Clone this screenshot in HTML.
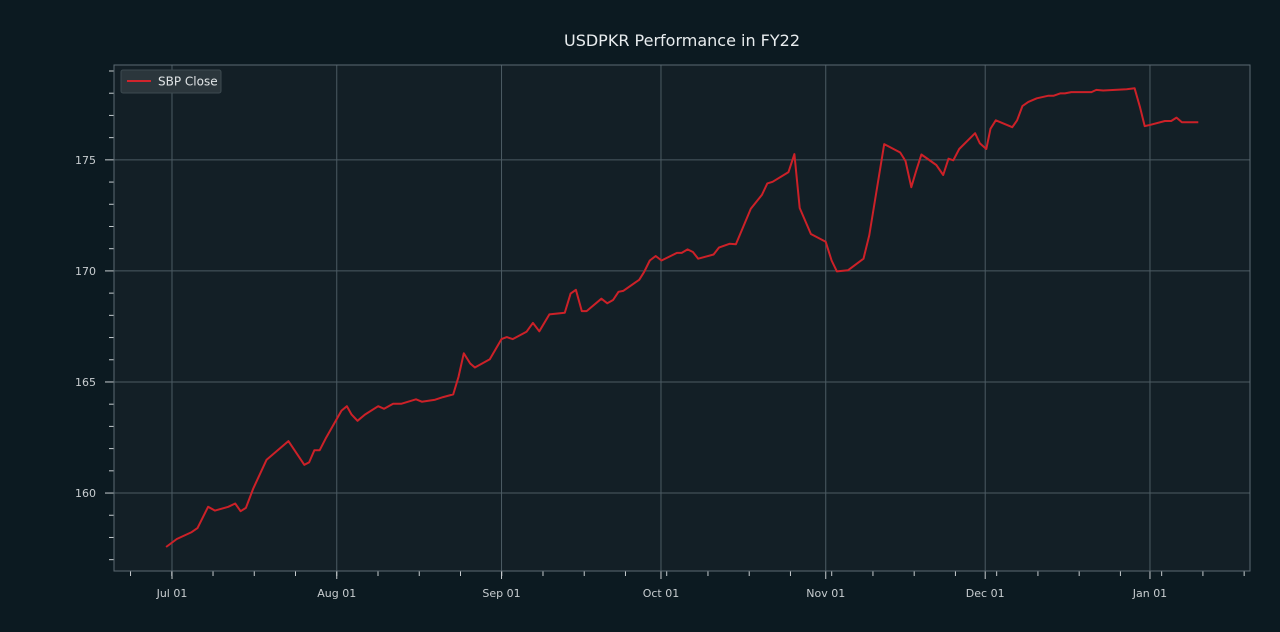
<!DOCTYPE html>
<html><head><meta charset="utf-8"><style>
html,body{margin:0;padding:0;background:#0c1a21;}
svg{display:block;font-family:"DejaVu Sans","Liberation Sans",sans-serif;}
</style></head><body>
<svg id="chart" width="1280" height="632" viewBox="0 0 1280 632">
<rect x="0" y="0" width="1280" height="632" fill="#0c1a21"/>
<text x="682" y="46" text-anchor="middle" font-size="16" fill="#e8ecee">USDPKR Performance in FY22</text>
<rect x="114" y="65" width="1136" height="506" fill="#131f26"/>
<g id="grid"></g>
<g id="ticks"></g>
<rect x="114" y="65" width="1136" height="506" fill="none" stroke="#5b6a72" stroke-width="1"/>
<g id="series"></g>
<g>
<rect x="121" y="70" width="100" height="23" rx="2" fill="#2b363c" stroke="#3d4a50"/>
<line x1="127" y1="81" x2="151" y2="81" stroke="#d0242c" stroke-width="2"/>
<text x="158" y="85.5" font-size="12" fill="#e0e4e6">SBP Close</text>
</g>
</svg>
<script>
// days since 2021-07-01
const days = [-1.1,0.9,3.7,4.8,6.8,8.1,10.6,11.9,12.9,13.9,15.3,17.8,21.9,24.9,25.8,26.8,27.8,29,31.9,32.9,33.8,34.9,36.3,38.8,39.9,41.6,43.2,45.9,47,49.5,51,52.9,53.9,54.9,56.1,57,59.8,62,63,64.1,66.7,67.9,69.1,71,73.9,75,76,77.1,78,80.8,81.9,83,84,84.9,87.9,88.8,89.9,91,92.1,95,95.9,97,98,99,101.9,102.9,104.9,106.1,108.9,111,112,113,116,117.1,118.1,120.2,123,124.1,125.1,127.2,130.1,131.2,134,137,138,139.1,140.1,141,143.8,145.1,146.1,147,148.1,151.1,152,153.2,154,155,158.1,159,160,161.1,162.7,164.9,165.9,167.1,168,169.2,173,173.9,175.2,179.6,181.1,182.1,183,184.1,186.8,188,189,190,193.1];
const closeValues = [157.57,157.93,158.24,158.42,159.38,159.21,159.38,159.53,159.18,159.33,160.21,161.5,162.34,161.27,161.38,161.93,161.93,162.49,163.71,163.91,163.53,163.25,163.53,163.91,163.79,164.02,164.02,164.22,164.11,164.2,164.32,164.44,165.23,166.29,165.83,165.65,166.02,166.93,167.02,166.93,167.26,167.66,167.28,168.04,168.12,168.98,169.15,168.19,168.19,168.75,168.54,168.69,169.06,169.1,169.6,169.94,170.47,170.67,170.47,170.81,170.81,170.97,170.85,170.55,170.74,171.05,171.22,171.2,172.8,173.43,173.94,174.01,174.45,175.26,172.83,171.66,171.31,170.47,169.98,170.03,170.55,171.61,175.71,175.33,174.95,173.77,174.57,175.24,174.77,174.32,175.05,174.98,175.49,176.2,175.74,175.49,176.4,176.78,176.47,176.78,177.42,177.61,177.77,177.89,177.89,177.99,177.99,178.05,178.05,178.15,178.12,178.18,178.22,177.39,176.52,176.58,176.75,176.75,176.9,176.69,176.69];
const monthLabels = ["Jul 01","Aug 01","Sep 01","Oct 01","Nov 01","Dec 01","Jan 01"];
const monthDays = [0,31,62,92,123,153,184];
const yTickValues = [160,165,170,175];

const NS="http://www.w3.org/2000/svg";
const X0=114,X1=1250,Y0=65,Y1=571;
const dMin=-10.91,dMax=202.82,vMin=156.49,vMax=179.27;
function xs(d){return X0+(d-dMin)/(dMax-dMin)*(X1-X0);}
function ys(v){return Y1-(v-vMin)/(vMax-vMin)*(Y1-Y0);}
function mk(tag,attrs,parent){const e=document.createElementNS(NS,tag);for(const k in attrs)e.setAttribute(k,attrs[k]);parent.appendChild(e);return e;}
const grid=document.getElementById('grid'),ticks=document.getElementById('ticks'),series=document.getElementById('series');

monthDays.forEach((d,i)=>{
  const x=xs(d);
  const g=mk('line',{x1:x,y1:Y0,x2:x,y2:Y1,stroke:'#4c5b63','stroke-width':1},grid);
  
  
  const t=mk('line',{x1:x,y1:Y1,x2:x,y2:Y1+8,stroke:'#c8cdd0','stroke-width':1},ticks);
  
  
  const l=mk('text',{x:x,y:Y1+26,'text-anchor':'middle','font-size':11,fill:'#c8cdd0'},ticks);
  l.textContent=monthLabels[i];
  
  
});
for(let k=0;k<28;k++){
  const d=-7.8+k*7.76;
  const x=xs(d);
  const t=mk('line',{x1:x,y1:Y1,x2:x,y2:Y1+5,stroke:'#c8cdd0','stroke-width':1},ticks);
  
  
}
yTickValues.forEach(v=>{
  const y=ys(v);
  const g=mk('line',{x1:X0,y1:y,x2:X1,y2:y,stroke:'#4c5b63','stroke-width':1},grid);
  
  
  const t=mk('line',{x1:X0-9,y1:y,x2:X0,y2:y,stroke:'#c8cdd0','stroke-width':1},ticks);
  
  
  const l=mk('text',{x:X0-18,y:y+4,'text-anchor':'end','font-size':11,fill:'#c8cdd0'},ticks);
  l.textContent=String(v);
  
  
});
for(let v=157;v<=179;v++){
  if(v%5===0)continue;
  const y=ys(v);
  const t=mk('line',{x1:X0-5,y1:y,x2:X0,y2:y,stroke:'#c8cdd0','stroke-width':1},ticks);
  
  
}
const pts=days.map((d,i)=>xs(d).toFixed(1)+','+ys(closeValues[i]).toFixed(1)).join(' ');
const line=mk('polyline',{points:pts,fill:'none',stroke:'#cc2128','stroke-width':2,'stroke-linejoin':'round'},series);


</script>
</body></html>
